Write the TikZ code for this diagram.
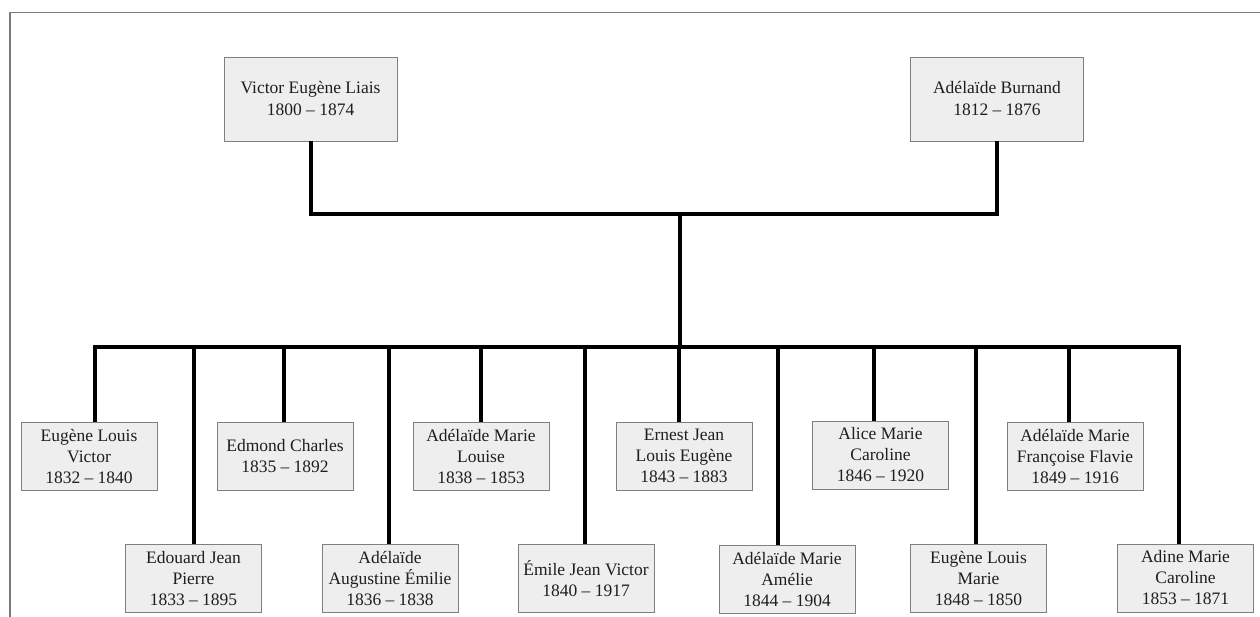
\documentclass[tikz,border=0pt]{standalone}
\usepackage{fontspec}
\setmainfont{Liberation Serif}
\definecolor{boxfill}{HTML}{EEEEEE}
\definecolor{boxline}{HTML}{7F7F7F}
\definecolor{framegray}{HTML}{7A7A7A}
\definecolor{txt}{HTML}{1E1E1E}
\begin{document}
\begin{tikzpicture}[x=1pt,y=-1pt,
  person/.style={draw=boxline, fill=boxfill, line width=0.9pt, minimum width=136pt, minimum height=68pt, inner sep=1pt, align=center, text=txt, font=\fontsize{17.5}{21}\selectfont},
  parent/.style={person, minimum width=173pt, minimum height=84pt, font=\fontsize{17.5}{22}\selectfont},
  link/.style={line width=4pt, line join=miter, black},
  frameline/.style={draw=framegray, line width=1.5pt}]
\useasboundingbox (0,0) rectangle (1260,617);
% frame
\coordinate (fbl) at (10,617);
\coordinate (ftl) at (10,12.5);
\coordinate (ftr) at (1260,12.5);
\draw[frameline] (fbl) -- (ftl) -- (ftr);
% parents
\node[parent] (vic) at (310.5,99) {Victor Eugène Liais\\1800 – 1874};
\node[parent] (ade) at (997,99) {Adélaïde Burnand\\1812 – 1876};
% children, upper row
\node[person] (c1) at (89,456) {Eugène Louis\\Victor\\1832 – 1840};
\node[person] (c3) at (285,456) {Edmond Charles\\1835 – 1892};
\node[person] (c5) at (481,456) {Adélaïde Marie\\Louise\\1838 – 1853};
\node[person] (c7) at (684,456) {Ernest Jean\\Louis Eugène\\1843 – 1883};
\node[person] (c9) at (880.5,455) {Alice Marie\\Caroline\\1846 – 1920};
\node[person] (c11) at (1075,456) {Adélaïde Marie\\Françoise Flavie\\1849 – 1916};
% children, lower row
\node[person] (c2) at (193.5,578.5) {Edouard Jean\\Pierre\\1833 – 1895};
\node[person] (c4) at (390,578.5) {Adélaïde\\Augustine Émilie\\1836 – 1838};
\node[person] (c6) at (586,578.5) {Émile Jean Victor\\1840 – 1917};
\node[person] (c8) at (787,579.5) {Adélaïde Marie\\Amélie\\1844 – 1904};
\node[person] (c10) at (978.5,578.5) {Eugène Louis\\Marie\\1848 – 1850};
\node[person] (c12) at (1185.5,578) {Adine Marie\\Caroline\\1853 – 1871};
% junctions
\coordinate (pm) at (680,214);
\coordinate (bm) at (680,347);
\coordinate (b1) at (95,347);
\coordinate (b2) at (194,347);
\coordinate (b3) at (284,347);
\coordinate (b4) at (389,347);
\coordinate (b5) at (481,347);
\coordinate (b6) at (585,347);
\coordinate (b7) at (679,347);
\coordinate (b8) at (778,347);
\coordinate (b9) at (874,347);
\coordinate (b10) at (976,347);
\coordinate (b11) at (1069,347);
\coordinate (b12) at (1179,347);
% parent links
\draw[link] (vic.south) |- (pm) -| (ade.south);
\draw[link] (pm) -- (bm);
% sibling bar with the two outer children
\draw[link] (b1 |- c1.north) -- (b1) -- (b12) -- (b12 |- c12.north);
% inner children
\foreach \i in {2,...,11} {
  \draw[link] (b\i) -- (b\i |- c\i.north);
}
\end{tikzpicture}
\end{document}
